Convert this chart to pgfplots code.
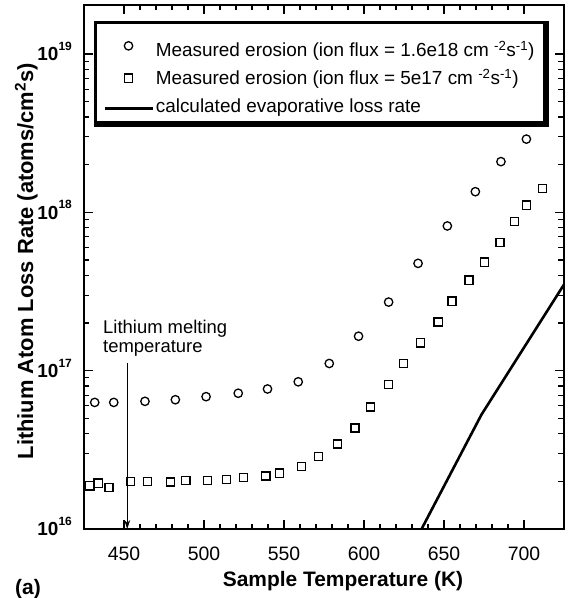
\documentclass[border=0pt]{standalone}
\usepackage{fontspec}
\setmainfont{Liberation Sans}
\usepackage{pgfplots}
\usepackage{pgfplotstable}
\pgfplotsset{compat=1.18}
\usetikzlibrary{arrows.meta}

\pgfplotsset{
  circleleg/.style={legend image code/.code={\draw[##1] plot coordinates {(24bp,-3.25bp)};}},
  squareleg/.style={legend image code/.code={\draw[##1] plot coordinates {(24bp,1.5bp)};}},
  lineleg/.style={legend image code/.code={\draw[##1] (0bp,1.25bp) -- (48bp,1.25bp);}},
}

% erosion at ion flux 1.6e18 cm^-2 s^-1 (circles)
\pgfplotstableread{
T rate
431.7 6.3e16
443.6 6.3e16
463.1 6.4e16
482.1 6.55e16
501.3 6.85e16
521.4 7.2e16
539.7 7.66e16
558.9 8.5e16
578.3 1.11e17
596.6 1.65e17
615.4 2.71e17
633.8 4.76e17
652.1 8.2e17
669.6 1.35e18
685.6 2.09e18
701.5 2.9e18
}\highflux

% erosion at ion flux 5e17 cm^-2 s^-1 (squares)
\pgfplotstableread{
T rate
428.6 1.87e16
433.8 1.95e16
440.6 1.83e16
454.0 1.99e16
464.8 1.99e16
479.0 1.98e16
488.6 2.02e16
502.3 2.02e16
514.0 2.06e16
524.8 2.12e16
538.6 2.16e16
547.3 2.25e16
560.9 2.48e16
571.7 2.87e16
583.4 3.44e16
594.4 4.34e16
604.0 5.89e16
615.4 8.16e16
624.8 1.11e17
635.3 1.50e17
646.3 2.03e17
655.0 2.75e17
665.6 3.73e17
675.4 4.85e17
685.0 6.43e17
694.0 8.73e17
701.7 1.11e18
711.5 1.41e18
}\lowflux

% calculated evaporation
\pgfplotstableread{
T rate
636.0 1.0e16
673.4 5.27e16
725.0 3.5e17
}\evap

\begin{document}
\begin{tikzpicture}
\begin{axis}[
  scale only axis, width=480bp, height=524bp,
  xmin=425, xmax=725,
  ymode=log, ymin=1e16, ymax=2.04e19,
  axis line style={line width=1.4bp},
  tick align=inside, tick pos=both,
  xtick={450,500,...,700}, minor x tick num=4,
  ytick={1e16,1e17,1e18,1e19},
  yticklabels={
    {10\raisebox{10.4bp}{\fontsize{12}{12}\selectfont\bfseries 16}},
    {10\raisebox{10.4bp}{\fontsize{12}{12}\selectfont\bfseries 17}},
    {10\raisebox{10.4bp}{\fontsize{12}{12}\selectfont\bfseries 18}},
    {10\raisebox{10.4bp}{\fontsize{12}{12}\selectfont\bfseries 19}}},
  major tick length=9bp, minor tick length=5.5bp,
  every tick/.style={black, line width=1.1bp},
  /pgf/number format/assume math mode=true,
  xticklabel style={font=\fontsize{19.5}{20}\selectfont, anchor=base, inner sep=0pt, yshift=-32bp},
  yticklabel style={font=\fontsize{19}{20}\selectfont\bfseries, anchor=base east, inner sep=0pt, xshift=-12bp, yshift=-7bp},
  xlabel={Sample Temperature (K)},
  xlabel style={font=\fontsize{21}{22}\selectfont\bfseries, at={(axis description cs:0.5396,-0.1107)}, anchor=base, inner sep=0pt},
  ylabel={Lithium Atom Loss Rate (atoms/cm\textsuperscript{2}s)},
  ylabel style={font=\fontsize{22}{24}\selectfont\bfseries, at={(axis description cs:-0.106,0.511)}, anchor=base, inner sep=0pt},
  legend style={at={(axis description cs:0.0205,0.9695)}, anchor=north west,
    draw=black, line width=2.8bp, fill=white,
    append after command={\pgfextra{
      \fill[black] ([shift={(0bp,-3bp)}]\tikzlastnode.south east)
        rectangle ([shift={(3bp,-0.5bp)}]\tikzlastnode.north east);
      \fill[black] ([shift={(0.5bp,-3bp)}]\tikzlastnode.south west)
        rectangle ([shift={(3bp,0bp)}]\tikzlastnode.south east);}},
    font=\fontsize{19}{20}\selectfont, inner xsep=8bp, inner ysep=1bp, row sep=7.75bp,
    nodes={inner ysep=1bp, inner xsep=2bp, text height=14bp, text depth=4bp}},
  legend cell align=left,
]
\coordinate (sw) at (rel axis cs:0,0);
\coordinate (ne) at (rel axis cs:1,1);

\addplot[only marks, mark=o, mark size=4.2bp, mark options={line width=1.3bp, black}, circleleg]
  table[x=T, y=rate] {\highflux};
\addlegendentry[text height=32.5bp]{Measured erosion (ion flux = 1.6e18 cm \textsuperscript{-2}s\textsuperscript{-1})}

\addplot[only marks, mark=square, mark size=4.1bp, mark options={line width=1.3bp, black}, squareleg]
  table[x=T, y=rate] {\lowflux};
\addlegendentry{Measured erosion (ion flux = 5e17 cm \textsuperscript{-2}s\textsuperscript{-1})}

\addplot[black, line width=2.6bp, no marks, lineleg]
  table[x=T, y=rate] {\evap};
\addlegendentry[text depth=8.5bp]{calculated evaporative loss rate}

% melting point of lithium
\addplot[black, line width=1.1bp, -{Stealth[length=9bp, width=6bp]}, forget plot]
  coordinates {(452, 1.12e17) (452, 1.0e16)};
\node[anchor=base west, inner sep=0pt, align=left, font=\fontsize{18.5}{19}\selectfont]
  at (axis cs:436.9, 1.31e17) {Lithium melting\\temperature};
\end{axis}
\node[anchor=base west, inner sep=0pt, font=\fontsize{21}{22}\selectfont\bfseries]
  at ([shift={(-69bp,-65bp)}]sw) {(a)};
\pgfresetboundingbox
\path[use as bounding box] ([shift={(-84bp,-69bp)}]sw) rectangle ([shift={(7bp,5bp)}]ne);
\end{tikzpicture}
\end{document}
